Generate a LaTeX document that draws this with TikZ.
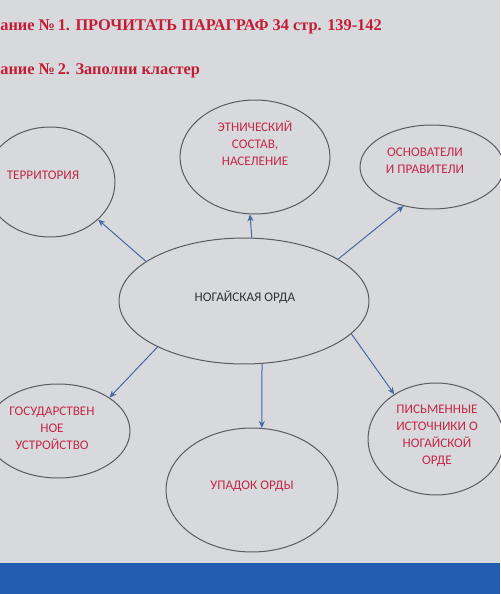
\documentclass[tikz,border=0pt]{standalone}
\usepackage{fontspec}
\setmainfont{Liberation Serif}
\newfontfamily\carl{Carlito}
\usetikzlibrary{shapes.geometric, arrows.meta}

\definecolor{bggray}{RGB}{216,217,221}
\definecolor{titlered}{RGB}{196,28,52}
\definecolor{cellred}{RGB}{196,40,72}
\definecolor{ringgray}{RGB}{90,90,98}
\definecolor{linkblue}{RGB}{72,104,162}
\definecolor{barblue}{RGB}{34,92,176}

\tikzset{
  cluster/.style = {ellipse, line width = 0.2mm, draw = ringgray, inner sep = 0pt},
  celltext/.style = {font = \carl\fontsize{7.5}{9.6}\selectfont, text = cellred, align = center, inner sep = 0pt},
  link/.style = {line width = 0.2mm, draw = linkblue, -{Stealth[length = 4pt, width = 3.5pt]}}
}

\begin{document}
\begin{tikzpicture}[x = 0.02cm, y = -0.02cm]

\useasboundingbox (0, 0) rectangle (500, 594);
\fill[bggray] (0, 0) rectangle (500, 594);
\fill[barblue] (0, 563) rectangle (500, 594);

\node[anchor = west, inner sep = 0pt, text = titlered, font = \bfseries\fontsize{9.3}{11}\selectfont] (task1) at (0, 27) {ание №\,1. ПРОЧИТАТЬ ПАРАГРАФ 34 стр. 139-142};
\node[anchor = west, inner sep = 0pt, text = titlered, font = \bfseries\fontsize{9.3}{11}\selectfont] (task2) at (0, 71) {ание №\,2. Заполни кластер};

\node[cluster, minimum width = 5cm, minimum height = 2.52cm] (horde) at (244, 301) {};
\node[cluster, minimum width = 2.6cm, minimum height = 2.2cm] (terr) at (50, 182) {};
\node[cluster, minimum width = 3cm, minimum height = 2.28cm] (ethn) at (255, 157) {};
\node[cluster, minimum width = 2.88cm, minimum height = 1.68cm] (found) at (432, 167) {};
\node[cluster, minimum width = 2.88cm, minimum height = 1.88cm] (state) at (58, 431) {};
\node[cluster, minimum width = 3.44cm, minimum height = 2.48cm] (decl) at (252, 490) {};
\node[cluster, minimum width = 2.72cm, minimum height = 2.24cm] (writ) at (436, 439) {};

\node[celltext, text = black!80] (hordet) at (245, 297) {НОГАЙСКАЯ ОРДА};
\node[celltext] (terrt) at (43, 175) {ТЕРРИТОРИЯ};
\node[celltext] (ethnt) at (255, 143) {ЭТНИЧЕСКИЙ\\СОСТАВ,\\НАСЕЛЕНИЕ};
\node[celltext] (foundt) at (425, 161) {ОСНОВАТЕЛИ\\И ПРАВИТЕЛИ};
\node[celltext] (statet) at (52, 428) {ГОСУДАРСТВЕН\\НОЕ\\УСТРОЙСТВО};
\node[celltext] (declt) at (252, 486) {УПАДОК ОРДЫ};
\node[celltext] (writt) at (437, 436) {ПИСЬМЕННЫЕ\\ИСТОЧНИКИ О\\НОГАЙСКОЙ\\ОРДЕ};

\draw[link] (horde.158) -- (terr.-38);
\draw[link] (horde.83) -- (ethn.265);
\draw[link] (horde.24) -- (found.234);
\draw[link] (horde.208) -- (state.33);
\draw[link] (horde.286) -- (decl.81);
\draw[link] (horde.-17) -- (writ.133);

\end{tikzpicture}
\end{document}
